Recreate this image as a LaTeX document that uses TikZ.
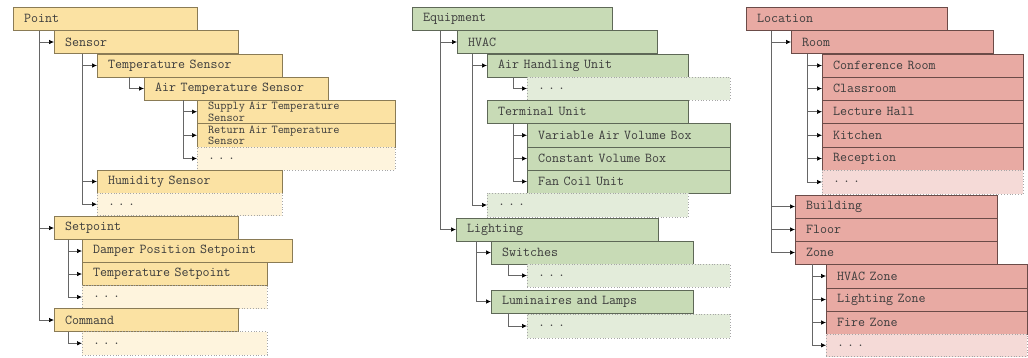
\documentclass[tikz,border=0pt]{standalone}
\usepackage{fontspec}
\usetikzlibrary{arrows.meta}

\definecolor{yfill}{HTML}{FBE2A3}
\definecolor{ylight}{HTML}{FEF4DD}
\definecolor{yedge}{HTML}{8A7B55}
\definecolor{gfill}{HTML}{C8DBB6}
\definecolor{glight}{HTML}{E3ECDA}
\definecolor{gedge}{HTML}{5E6857}
\definecolor{rfill}{HTML}{E8AAA3}
\definecolor{rlight}{HTML}{F5DAD7}
\definecolor{redge}{HTML}{6B4B48}
\definecolor{labeltext}{HTML}{3C3C3C}

% box: style, name, x1, y1, x2, y2, label  (y grows downwards)
\newcommand\mkbox[7]{%
  \pgfmathsetmacro\boxWd{#5-#3}%
  \pgfmathsetmacro\boxHt{#6-#4}%
  \pgfmathsetmacro\boxTw{#5-#3-22}%
  \node[#1, anchor=north west, minimum width=\boxWd pt, minimum height=\boxHt pt,
        text width=\boxTw pt] (#2) at (#3,#4) {#7};}

\newcommand\ellip{.\hspace{3pt}.\hspace{3pt}.}

\begin{document}
\begin{tikzpicture}[x=1pt, y=-1pt,
  tbox/.style={rectangle, outer sep=0pt, inner xsep=11pt, inner ysep=0pt,
    align=left, line width=0.8pt, text=labeltext,
    font=\ttfamily\fontsize{13.6}{14}\selectfont},
  ybox/.style={tbox, fill=yfill, draw=yedge},
  ysmall/.style={ybox, font=\ttfamily\fontsize{12}{11.4}\selectfont},
  ydots/.style={tbox, fill=ylight, draw=black!35, dotted},
  gbox/.style={tbox, fill=gfill, draw=gedge},
  gdots/.style={tbox, fill=glight, draw=black!35, dotted},
  rbox/.style={tbox, fill=rfill, draw=redge},
  rdots/.style={tbox, fill=rlight, draw=black!35, dotted},
  conn/.style={draw=black!60, line width=0.7pt,
    -{Latex[length=5pt,width=4.5pt,color=black]}}]

\useasboundingbox (0,0) rectangle (1028,357);

% ---------------- Point hierarchy ----------------
\mkbox{ybox}{P}{13}{7}{197}{30.5}{Point}
\mkbox{ybox}{S}{54}{30.5}{238}{53.5}{Sensor}
\mkbox{ybox}{TS}{97}{54}{282}{77}{Temperature Sensor}
\mkbox{ybox}{ATS}{144}{77}{328}{100}{Air Temperature Sensor}
\mkbox{ysmall}{SATS}{197}{100}{395}{123.5}{Supply Air Temperature\\Sensor}
\mkbox{ysmall}{RATS}{197}{123.5}{395}{147}{Return Air Temperature\\Sensor}
\mkbox{ydots}{Adots}{197}{147}{395}{170}{\ellip}
\mkbox{ybox}{HS}{97}{170}{282}{193}{Humidity Sensor}
\mkbox{ydots}{Sdots}{97}{193}{282}{215.5}{\ellip}
\mkbox{ybox}{SP}{54}{216.5}{238}{239.5}{Setpoint}
\mkbox{ybox}{DPS}{82}{239.5}{292}{262.5}{Damper Position Setpoint}
\mkbox{ybox}{TSP}{82}{262.5}{267}{285.5}{Temperature Setpoint}
\mkbox{ydots}{SPdots}{82}{285.5}{267}{308.5}{\ellip}
\mkbox{ybox}{CM}{54}{308.5}{238}{331.5}{Command}
\mkbox{ydots}{CMdots}{82}{331.5}{267}{355}{\ellip}

\draw[conn] ([xshift=26pt]P.south west) |- (S.west);
\draw[conn] ([xshift=26pt]P.south west) |- (SP.west);
\draw[conn] ([xshift=26pt]P.south west) |- (CM.west);
\draw[conn] ([xshift=28pt]S.south west) |- (TS.west);
\draw[conn] ([xshift=28pt]S.south west) |- (HS.west);
\draw[conn] ([xshift=28pt]S.south west) |- (Sdots.west);
\draw[conn] ([xshift=32pt]TS.south west) |- (ATS.west);
\draw[conn] ([xshift=39pt]ATS.south west) |- (SATS.west);
\draw[conn] ([xshift=39pt]ATS.south west) |- (RATS.west);
\draw[conn] ([xshift=39pt]ATS.south west) |- (Adots.west);
\draw[conn] ([xshift=14pt]SP.south west) |- (DPS.west);
\draw[conn] ([xshift=14pt]SP.south west) |- (TSP.west);
\draw[conn] ([xshift=14pt]SP.south west) |- (SPdots.west);
\draw[conn] ([xshift=14pt]CM.south west) |- (CMdots.west);

% ---------------- Equipment hierarchy ----------------
\mkbox{gbox}{E}{412}{7}{612}{30.5}{Equipment}
\mkbox{gbox}{HV}{457}{30.5}{657}{53.5}{HVAC}
\mkbox{gbox}{AHU}{487}{54}{688}{77}{Air Handling Unit}
\mkbox{gdots}{AHUdots}{527}{77}{730}{100}{\ellip}
\mkbox{gbox}{TU}{487}{100}{688}{123.5}{Terminal Unit}
\mkbox{gbox}{VAV}{527}{123.5}{730}{147}{Variable Air Volume Box}
\mkbox{gbox}{CVB}{527}{147}{730}{170}{Constant Volume Box}
\mkbox{gbox}{FCU}{527}{170}{730}{193}{Fan Coil Unit}
\mkbox{gdots}{HVdots}{487}{193}{688}{217}{\ellip}
\mkbox{gbox}{LT}{456}{218}{658}{241}{Lighting}
\mkbox{gbox}{SW}{491}{241}{693}{264}{Switches}
\mkbox{gdots}{SWdots}{527}{264}{730}{287}{\ellip}
\mkbox{gbox}{LL}{491}{290}{693}{313}{Luminaires and Lamps}
\mkbox{gdots}{LLdots}{527}{314}{730}{338}{\ellip}

\draw[conn] ([xshift=28pt]E.south west) |- (HV.west);
\draw[conn] ([xshift=28pt]E.south west) |- (LT.west);
\draw[conn] ([xshift=15pt]HV.south west) |- (AHU.west);
\draw[conn] ([xshift=15pt]HV.south west) |- (HVdots.west);
\draw[conn] ([xshift=26pt]AHU.south west) |- (AHUdots.west);
\draw[conn] ([xshift=26pt]TU.south west) |- (VAV.west);
\draw[conn] ([xshift=26pt]TU.south west) |- (CVB.west);
\draw[conn] ([xshift=26pt]TU.south west) |- (FCU.west);
\draw[conn] ([xshift=20pt]LT.south west) |- (SW.west);
\draw[conn] ([xshift=20pt]LT.south west) |- (LL.west);
\draw[conn] ([xshift=17pt]SW.south west) |- (SWdots.west);
\draw[conn] ([xshift=17pt]LL.south west) |- (LLdots.west);

% ---------------- Location hierarchy ----------------
\mkbox{rbox}{L}{746}{7}{947}{30.5}{Location}
\mkbox{rbox}{R}{791}{30.5}{993}{53.5}{Room}
\mkbox{rbox}{CR}{822}{54}{1023}{77}{Conference Room}
\mkbox{rbox}{CL}{822}{77}{1023}{100}{Classroom}
\mkbox{rbox}{LH}{822}{100}{1023}{123.5}{Lecture Hall}
\mkbox{rbox}{KI}{822}{123.5}{1023}{147}{Kitchen}
\mkbox{rbox}{RE}{822}{147}{1023}{170}{Reception}
\mkbox{rdots}{Rdots}{822}{170}{1023}{194}{\ellip}
\mkbox{rbox}{B}{795}{195}{997}{218}{Building}
\mkbox{rbox}{F}{795}{218}{997}{241}{Floor}
\mkbox{rbox}{Z}{795}{241}{997}{264}{Zone}
\mkbox{rbox}{HZ}{826}{264}{1027}{288}{HVAC Zone}
\mkbox{rbox}{LZ}{826}{288}{1027}{311}{Lighting Zone}
\mkbox{rbox}{FZ}{826}{311}{1027}{334}{Fire Zone}
\mkbox{rdots}{Zdots}{826}{334}{1027}{356.5}{\ellip}

\draw[conn] ([xshift=25pt]L.south west) |- (R.west);
\draw[conn] ([xshift=25pt]L.south west) |- (B.west);
\draw[conn] ([xshift=25pt]L.south west) |- (F.west);
\draw[conn] ([xshift=25pt]L.south west) |- (Z.west);
\draw[conn] ([xshift=16pt]R.south west) |- (CR.west);
\draw[conn] ([xshift=16pt]R.south west) |- (CL.west);
\draw[conn] ([xshift=16pt]R.south west) |- (LH.west);
\draw[conn] ([xshift=16pt]R.south west) |- (KI.west);
\draw[conn] ([xshift=16pt]R.south west) |- (RE.west);
\draw[conn] ([xshift=16pt]R.south west) |- (Rdots.west);
\draw[conn] ([xshift=17pt]Z.south west) |- (HZ.west);
\draw[conn] ([xshift=17pt]Z.south west) |- (LZ.west);
\draw[conn] ([xshift=17pt]Z.south west) |- (FZ.west);
\draw[conn] ([xshift=17pt]Z.south west) |- (Zdots.west);

\end{tikzpicture}
\end{document}
